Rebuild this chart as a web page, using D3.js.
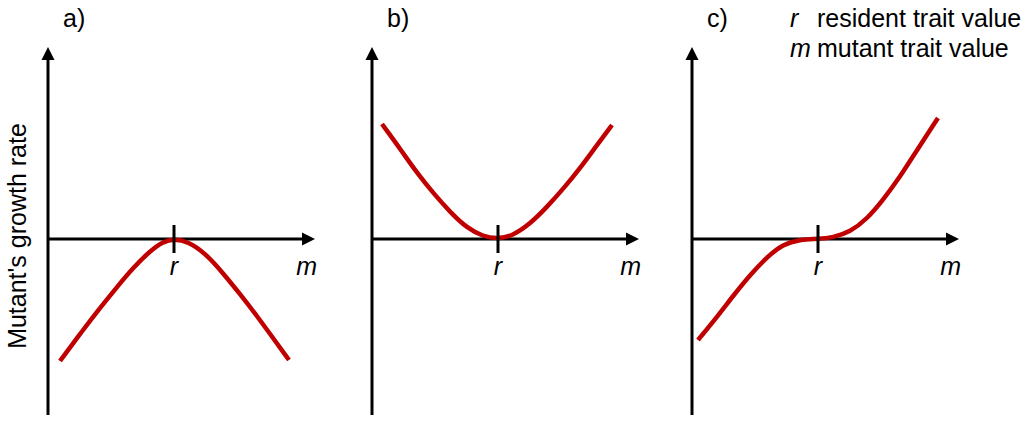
<!DOCTYPE html>
<html>
<head>
<meta charset="utf-8">
<script src="https://cdn.jsdelivr.net/npm/d3@7"></script>
<style>
  html, body { margin: 0; padding: 0; background: #fff; }
  svg { display: block; font-family: "Liberation Sans", Arial, sans-serif; }
</style>
</head>
<body>
<svg id="chart"></svg>
<script>
/* ------------ DATA --------------------------------------------------- */
// mutant trait m (resident r at 0) vs mutant's growth rate
const panelLabels = ['a)', 'b)', 'c)'];

const curveA = [
  [-1.14, -1.22], [-0.91, -0.91], [-0.74, -0.69], [-0.57, -0.48], [-0.41, -0.29],
  [-0.24, -0.12], [-0.11, -0.025], [0, 0], [0.14, -0.025], [0.31, -0.14],
  [0.49, -0.34], [0.66, -0.55], [0.83, -0.77], [0.99, -0.99], [1.15, -1.21]
];
const curveB = [
  [-1.16, 1.15], [-0.97, 0.89], [-0.81, 0.66], [-0.64, 0.45], [-0.47, 0.26],
  [-0.31, 0.11], [-0.15, 0.025], [0, 0], [0.15, 0.035], [0.32, 0.15],
  [0.49, 0.32], [0.66, 0.51], [0.83, 0.72], [0.99, 0.94], [1.14, 1.14]
];
const curveC = [
  [-1.2, -1.01], [-1.01, -0.78], [-0.85, -0.57], [-0.68, -0.36], [-0.51, -0.18],
  [-0.35, -0.05], [-0.18, -0.005], [0, 0], [0.15, 0.015], [0.32, 0.07],
  [0.49, 0.2], [0.65, 0.39], [0.82, 0.62], [0.99, 0.89], [1.2, 1.21]
];
const curves = [curveA, curveB, curveC];

const tickLabel = 'r';
const axisLabel = 'm';
const yTitle = "Mutant's growth rate";
const legendKeys = ['r', 'm'];
const legendTexts = ['resident trait value', 'mutant trait value'];

/* ------------ CONFIG ------------------------------------------------- */
const W = 1024, H = 422;
const panelX = [48, 372, 692];
const panelW = 267;
const red = '#c00000';
const FS = 25;

const svg = d3.select('#chart').attr('width', W).attr('height', H);

const y = d3.scaleLinear().domain([-1.76, 1.92]).range([415, 47]);

const line = d3.line().curve(d3.curveBasis);

/* ------------ PANELS ------------------------------------------------- */
panelX.forEach((x0, i) => {
  const x = d3.scaleLinear().domain([-1.26, 1.41]).range([x0, x0 + panelW]);
  const g = svg.append('g');
  const [xmin, xmax] = x.domain();
  const [ymin, ymax] = y.domain();

  // y axis + arrow
  g.append('line')
    .attr('x1', x(xmin)).attr('x2', x(xmin))
    .attr('y1', y(ymin)).attr('y2', y(ymax) + 8)
    .attr('stroke', '#000').attr('stroke-width', 3);
  g.append('path')
    .attr('d', `M${x(xmin)},${y(ymax)} l-6.5,13 l13,0 Z`)
    .attr('fill', '#000');

  // x axis + arrow
  g.append('line')
    .attr('x1', x(xmin)).attr('x2', x(xmax) - 8)
    .attr('y1', y(0)).attr('y2', y(0))
    .attr('stroke', '#000').attr('stroke-width', 3);
  g.append('path')
    .attr('d', `M${x(xmax)},${y(0)} l-13,-6.5 l0,13 Z`)
    .attr('fill', '#000');

  // curve
  g.append('path')
    .attr('d', line(curves[i].map(d => [x(d[0]), y(d[1])])))
    .attr('fill', 'none')
    .attr('stroke', red)
    .attr('stroke-width', 4.5);

  // tick at r
  g.append('line')
    .attr('x1', x(0)).attr('x2', x(0))
    .attr('y1', y(0.14)).attr('y2', y(-0.14))
    .attr('stroke', '#000').attr('stroke-width', 3);

  g.append('text')
    .attr('x', x(0)).attr('y', 275)
    .attr('text-anchor', 'middle')
    .attr('font-size', FS).attr('font-style', 'italic')
    .text(tickLabel);

  g.append('text')
    .attr('x', x(xmax) + 2).attr('y', 275)
    .attr('text-anchor', 'end')
    .attr('font-size', FS).attr('font-style', 'italic')
    .text(axisLabel);

  g.append('text')
    .attr('x', x0 + 15).attr('y', 27)
    .attr('font-size', FS)
    .text(panelLabels[i]);
});

/* ------------ Y TITLE ------------------------------------------------ */
svg.append('text')
  .attr('transform', 'translate(26,236) rotate(-90)')
  .attr('text-anchor', 'middle')
  .attr('font-size', FS)
  .text(yTitle);

/* ------------ LEGEND ------------------------------------------------- */
legendKeys.forEach((k, i) => {
  svg.append('text')
    .attr('x', 790).attr('y', 27 + i * 30)
    .attr('font-size', FS).attr('font-style', 'italic')
    .text(k);
  svg.append('text')
    .attr('x', 817).attr('y', 27 + i * 30)
    .attr('font-size', FS)
    .text(legendTexts[i]);
});
</script>
</body>
</html>
